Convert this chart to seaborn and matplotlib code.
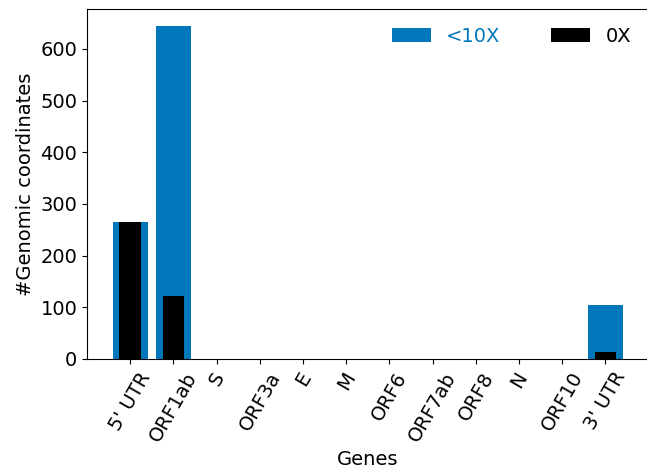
import matplotlib
matplotlib.use("Agg")
import matplotlib.pyplot as plt
import seaborn as sns
import pandas as pd

# genes and counts of genomic coordinates
genes = ["5' UTR", "ORF1ab", "S", "ORF3a", "E", "M", "ORF6", "ORF7ab", "ORF8", "N", "ORF10", "3' UTR"]
below_10x = [265, 645, 0, 0, 0, 0, 0, 0, 0, 0, 0, 104]
zero_x = [265, 122, 0, 0, 0, 0, 0, 0, 0, 0, 0, 14]

df = pd.DataFrame({"gene": genes, "lt10": below_10x, "zero": zero_x})

plt.rcParams['font.family'] = ['DejaVu Sans']

fig = plt.figure(figsize=(6.47, 4.76), dpi=100)
ax = fig.add_axes([0.1345, 0.246, 0.868, 0.735])

sns.barplot(data=df, x="gene", y="lt10", order=genes, color="#0077BB", saturation=1,
            width=0.8, linewidth=0, label="<10X", ax=ax)
sns.barplot(data=df, x="gene", y="zero", order=genes, color="black", saturation=1,
            width=0.5, linewidth=0, label="0X", ax=ax)

ax.set_xlim(-1, 12)
ax.set_ylim(0, 677)
ax.set_xlabel("Genes", fontsize=14)
ax.set_ylabel("#Genomic coordinates", fontsize=14)
ax.tick_params(axis="both", labelsize=14)
plt.setp(ax.get_xticklabels(), rotation=60)

leg = ax.legend(loc="upper right", ncol=2, frameon=False, fontsize=14,
                handlelength=2.0, columnspacing=2.6)
for txt, col in zip(leg.get_texts(), ["#0077BB", "black"]):
    txt.set_color(col)

fig.savefig("out.png", dpi=100)
